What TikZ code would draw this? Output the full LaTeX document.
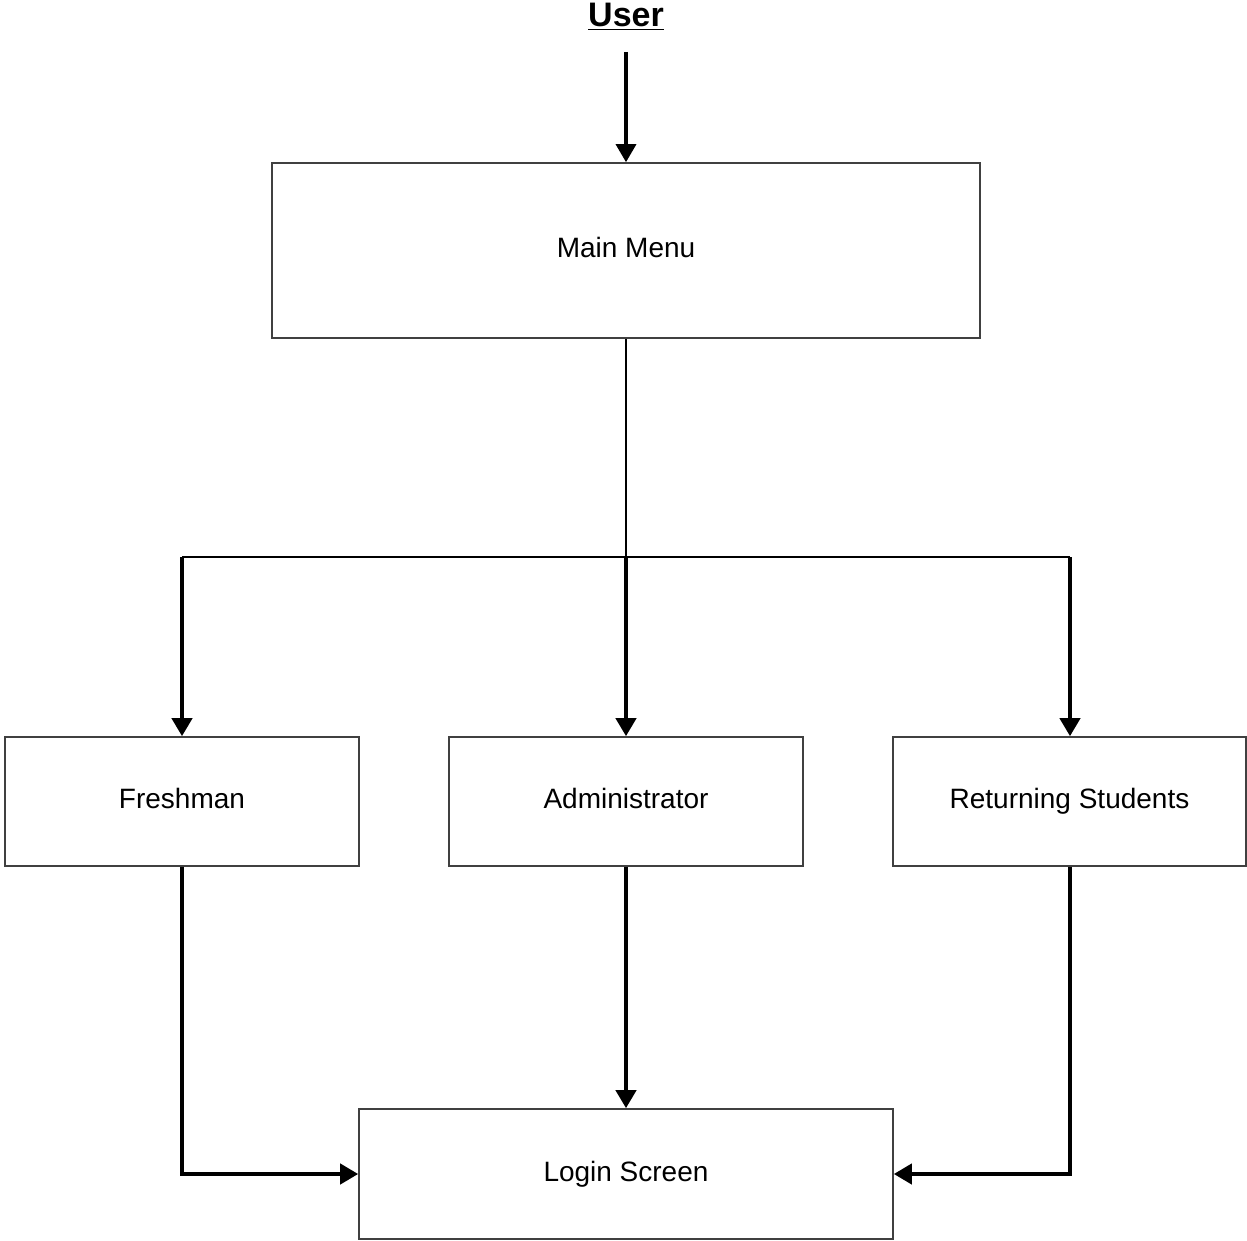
\documentclass[tikz,border=0pt]{standalone}
\usepackage{fontspec}
\setmainfont{Liberation Sans}
\usetikzlibrary{arrows.meta}
\begin{document}
\begin{tikzpicture}[x=0.5pt,y=-0.5pt,
  box/.style={draw=black!75,line width=0.8pt,inner sep=0pt,text height=10pt,text depth=3pt,font=\fontsize{14}{16}\selectfont},
  thick arrow/.style={line width=2pt,-{Triangle[length=9pt,width=10pt]}},
  thin line/.style={line width=1pt}]
\useasboundingbox (0,0) rectangle (1247,1241);
\node[font=\fontsize{17}{20}\selectfont\bfseries] (user) at (626,17) {\underline{User}};
\node[box,minimum width=354pt,minimum height=87.5pt] (menu) at (626,250.5) {Main Menu};
\node[box,minimum width=177pt,minimum height=64.5pt] (fresh) at (182,801.5) {Freshman};
\node[box,minimum width=177pt,minimum height=64.5pt] (admin) at (626,801.5) {Administrator};
\node[box,minimum width=176.5pt,minimum height=64.5pt] (ret) at (1069.5,801.5) {Returning Students};
\node[box,minimum width=267pt,minimum height=65pt] (login) at (626,1174) {Login Screen};
\coordinate (ustart) at (626,52);
\coordinate (split) at (626,557);
\coordinate (sl) at (182,557);
\coordinate (sr) at (1070,557);
\draw[thick arrow,line width=1.6pt] (ustart) -- (menu.north);
\draw[thin line] (menu.south) -- (split);
\draw[thin line] (sl) -- (sr);
\draw[thick arrow] (sl) -- (fresh.north);
\draw[thick arrow] (split) -- (admin.north);
\draw[thick arrow] (sr) -- (sr |- ret.north);
\draw[thick arrow] (fresh.south) |- (login.west);
\draw[thick arrow] (admin.south) -- (login.north);
\draw[thick arrow] (sr |- ret.south) |- (login.east);
\end{tikzpicture}
\end{document}
